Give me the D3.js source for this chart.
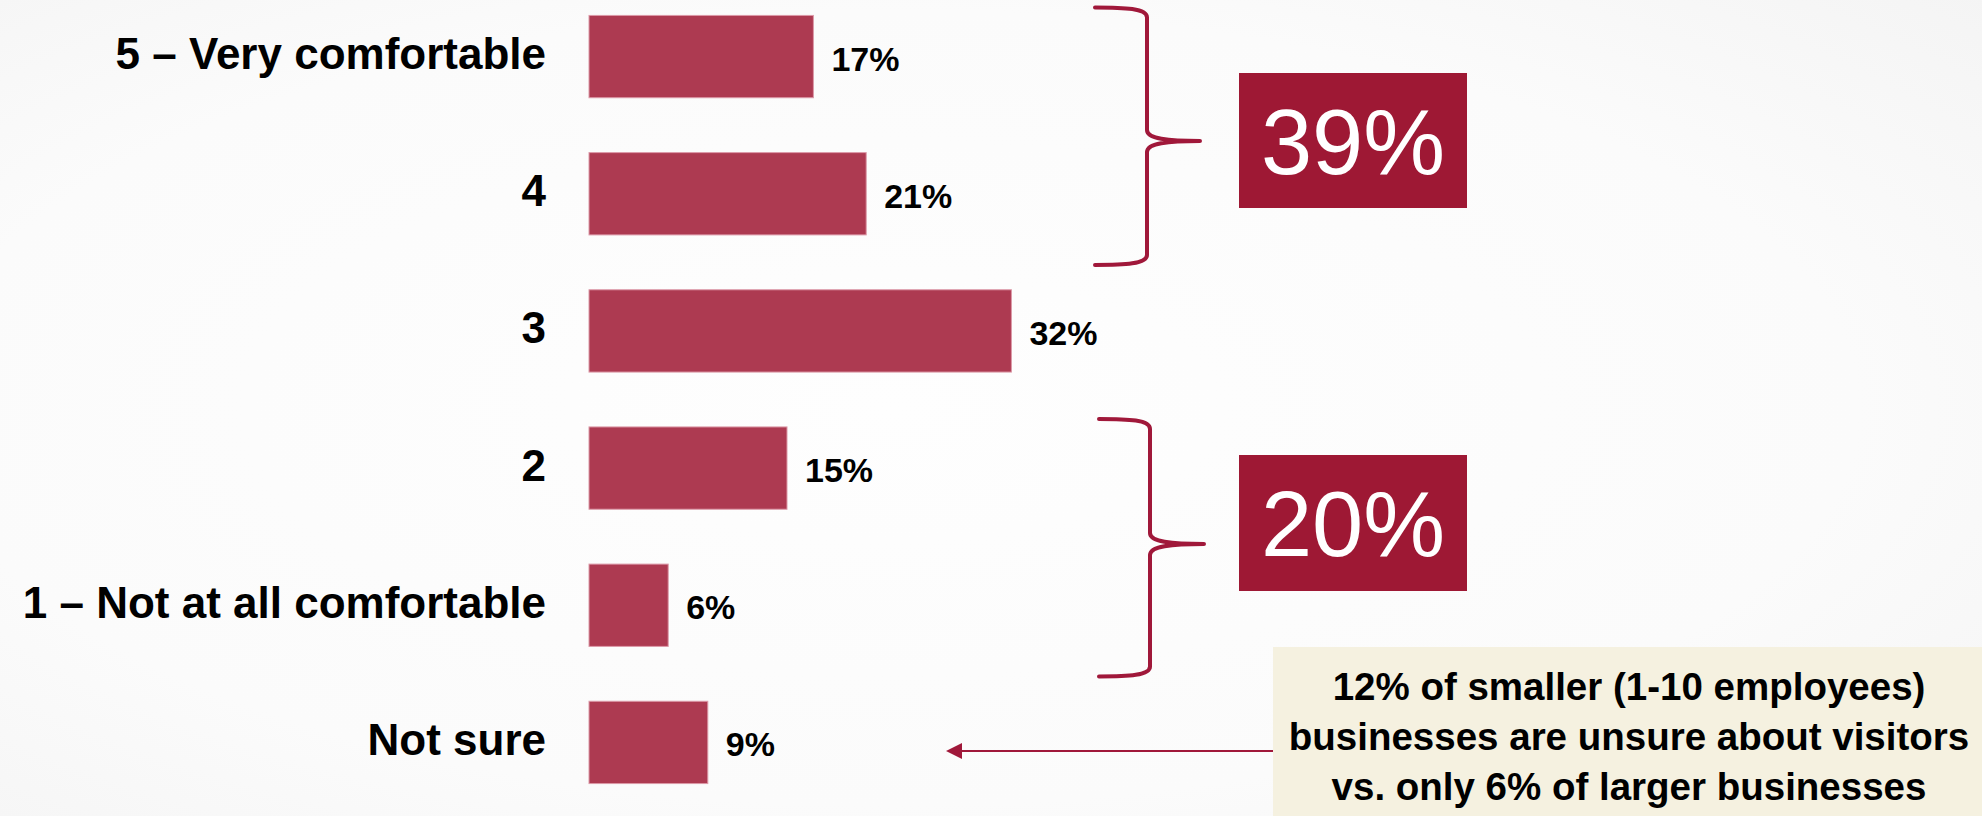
<!DOCTYPE html>
<html>
<head>
<meta charset="utf-8">
<script src="https://cdn.jsdelivr.net/npm/d3@7"></script>
<style>
  html, body { margin: 0; padding: 0; overflow: hidden; }
  svg { display: block; }
</style>
</head>
<body>
<svg id="chart" width="1982" height="816"></svg>
<script>
// Comfort with visitors — survey responses
const categories = ["5 – Very comfortable", "4", "3", "2", "1 – Not at all comfortable", "Not sure"];
const values = [17, 21, 32, 15, 6, 9];

// Grouped totals shown beside the braces
const groupLabels = ["39%", "20%"];
const groupMembers = [["5 – Very comfortable", "4"], ["2", "1 – Not at all comfortable"]];

const noteLines = [
  "12% of smaller (1-10 employees)",
  "businesses are unsure about visitors",
  "vs. only 6% of larger businesses"
];

const W = 1982, H = 816;
const svg = d3.select("#chart");

// soft grey backdrop
const defs = svg.append("defs");
const bg = defs.append("radialGradient").attr("id", "bg")
  .attr("cx", "45%").attr("cy", "50%").attr("r", "75%");
bg.append("stop").attr("offset", "0%").attr("stop-color", "#fefefe");
bg.append("stop").attr("offset", "65%").attr("stop-color", "#fbfbfb");
bg.append("stop").attr("offset", "100%").attr("stop-color", "#f4f4f4");
svg.append("rect").attr("width", W).attr("height", H).attr("fill", "url(#bg)");

const barLeft = 589;
const x = d3.scaleLinear().domain([0, 100]).range([barLeft, barLeft + 1320]);
const y = d3.scaleBand().domain(categories).range([-12, 811])
  .paddingInner(0.4).paddingOuter(0.2);

const font = "'Liberation Sans', Arial, sans-serif";
const barColor = "#ad3a51";
const accent = "#a0183a";

// bars
svg.append("g").selectAll("rect").data(values).join("rect")
  .attr("x", x(0))
  .attr("y", (d, i) => y(categories[i]))
  .attr("width", d => x(d) - x(0))
  .attr("height", y.bandwidth())
  .attr("fill", barColor)
  .attr("stroke", "#dc9aa8")
  .attr("stroke-width", 1);

// category labels
svg.append("g").selectAll("text").data(categories).join("text")
  .attr("x", 546)
  .attr("y", d => y(d) + y.bandwidth() / 2 + 12.5)
  .attr("text-anchor", "end")
  .attr("font-family", font)
  .attr("font-weight", 700)
  .attr("font-size", 44)
  .attr("fill", "#000")
  .text(d => d);

// value labels
svg.append("g").selectAll("text").data(values).join("text")
  .attr("x", d => x(d) + 18)
  .attr("y", (d, i) => y(categories[i]) + y.bandwidth() / 2 + 14)
  .attr("font-family", font)
  .attr("font-weight", 700)
  .attr("font-size", 34)
  .attr("fill", "#000")
  .text(d => d + "%");

// braces grouping rows, with total boxes
function bracePath(top, bottom, mid, xl, xv, xt) {
  const r = 8;
  return [
    `M${xl},${top}`,
    `C${xl + 30},${top} ${xv},${top + 1} ${xv},${top + r + 2}`,
    `L${xv},${mid - r - 3}`,
    `C${xv},${mid - 2} ${xv + 20},${mid} ${xt},${mid}`,
    `C${xv + 20},${mid} ${xv},${mid + 2} ${xv},${mid + r + 3}`,
    `L${xv},${bottom - r - 2}`,
    `C${xv},${bottom - 1} ${xl + 30},${bottom} ${xl},${bottom}`
  ].join(" ");
}

const braceGeom = [
  { mid: 141, box: [73, 208], xl: 1095, xv: 1147, xt: 1200 },
  { mid: 544, box: [455, 591], xl: 1099, xv: 1150, xt: 1204 }
];

groupMembers.forEach((members, i) => {
  const g = braceGeom[i];
  const top = y(members[0]) - 8;
  const bottom = y(members[members.length - 1]) + y.bandwidth() + 30;
  svg.append("path")
    .attr("d", bracePath(top, bottom, g.mid, g.xl, g.xv, g.xt))
    .attr("fill", "none")
    .attr("stroke", accent)
    .attr("stroke-width", 4)
    .attr("stroke-linecap", "round")
    .attr("stroke-linejoin", "round");

  svg.append("rect")
    .attr("x", 1239).attr("y", g.box[0])
    .attr("width", 228).attr("height", g.box[1] - g.box[0])
    .attr("fill", "#9e1834");
  svg.append("text")
    .attr("x", 1353)
    .attr("y", (g.box[0] + g.box[1]) / 2 + 33)
    .attr("text-anchor", "middle")
    .attr("font-family", font)
    .attr("font-weight", 400)
    .attr("font-size", 92)
    .attr("fill", "#fff")
    .text(groupLabels[i]);
});

// note box with arrow pointing to the "Not sure" row
svg.append("rect")
  .attr("x", 1273).attr("y", 647)
  .attr("width", W - 1273).attr("height", H - 647)
  .attr("fill", "#f5f1e0");

svg.append("line")
  .attr("x1", 1273).attr("y1", 751)
  .attr("x2", 958).attr("y2", 751)
  .attr("stroke", accent).attr("stroke-width", 2.2);
svg.append("path")
  .attr("d", "M946,751 L962,743 L962,759 Z")
  .attr("fill", accent);

svg.append("g").selectAll("text").data(noteLines).join("text")
  .attr("x", 1629)
  .attr("y", (d, i) => 700 + i * 50)
  .attr("text-anchor", "middle")
  .attr("font-family", font)
  .attr("font-weight", 700)
  .attr("font-size", 38.5)
  .attr("fill", "#000")
  .text(d => d);
</script>
</body>
</html>
